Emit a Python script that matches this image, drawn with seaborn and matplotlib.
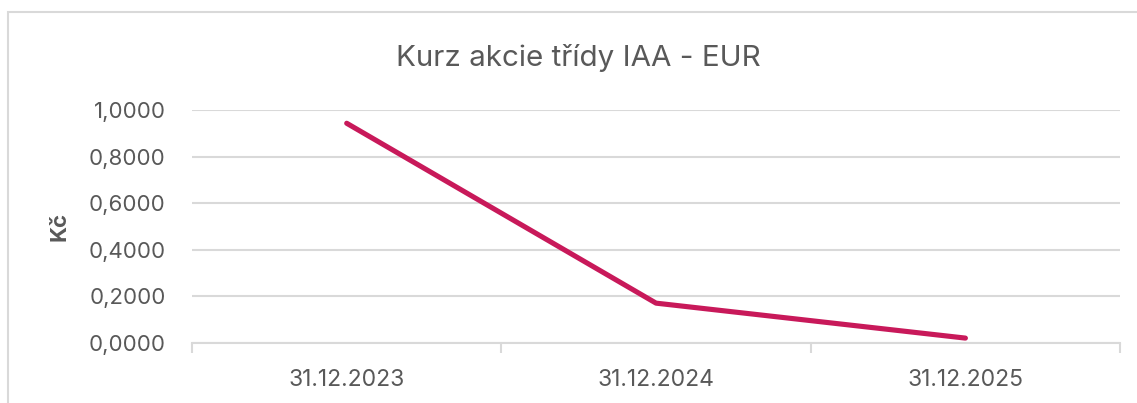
import matplotlib.pyplot as plt
import matplotlib.patches as patches
from matplotlib.ticker import FuncFormatter, FixedLocator
import pandas as pd
import seaborn as sns

dates = ["31.12.2023", "31.12.2024", "31.12.2025"]
kurz = [0.943, 0.171, 0.021]

title = "Kurz akcie třídy IAA - EUR"
ylabel = "Kč"

sns.set_style("white")
plt.rcParams['font.family'] = ['Inter', 'DejaVu Sans']

grey = "#595959"
grid = "#d9d9d9"

df = pd.DataFrame({"datum": dates, "kurz": kurz})

fig = plt.figure(figsize=(11.37, 4.03), dpi=100)
ax = fig.add_axes([0.1689, 0.1489, 0.8162, 0.5782])

sns.lineplot(data=df, x="datum", y="kurz", sort=False, ax=ax,
             color="#C8195A", linewidth=3.7, solid_capstyle="round")

ax.set_xlim(-0.5, len(dates) - 0.5)
ax.set_ylim(0, 1.0)
ax.set_yticks([0, 0.2, 0.4, 0.6, 0.8, 1.0])
ax.yaxis.set_major_formatter(FuncFormatter(lambda v, p: f"{v:.4f}".replace(".", ",")))
ax.yaxis.grid(True, color=grid, linewidth=1.5)
ax.set_axisbelow(True)

# category borders as ticks, labels centred
ax.xaxis.set_major_locator(FixedLocator([i - 0.5 for i in range(len(dates) + 1)]))
ax.xaxis.set_minor_locator(FixedLocator(list(range(len(dates)))))
ax.set_xticklabels([])
ax.set_xticklabels(dates, minor=True)
ax.tick_params(axis="x", which="major", length=7, width=1.5, color=grid, direction="out", bottom=True)
ax.tick_params(axis="x", which="minor", length=0, pad=19, labelsize=16.5, labelcolor=grey)
ax.tick_params(axis="y", length=0, pad=19, labelsize=16, labelcolor=grey)

for side in ["top", "right", "left"]:
    ax.spines[side].set_visible(False)
ax.spines["bottom"].set_color(grid)
ax.spines["bottom"].set_linewidth(1.5)

ax.set_xlabel("")
ax.set_ylabel(ylabel, fontsize=16, fontweight="bold", color=grey, labelpad=14)
fig.text(0.509, 0.855, title, ha="center", va="center", fontsize=21.3, color=grey)

fig.patches.append(patches.Rectangle((8 / 1137, -0.05), 1.2, (403 - 12) / 403 + 0.05,
                                     transform=fig.transFigure, fill=False,
                                     edgecolor=grid, linewidth=1.5))

fig.savefig("out.png", dpi=100)
